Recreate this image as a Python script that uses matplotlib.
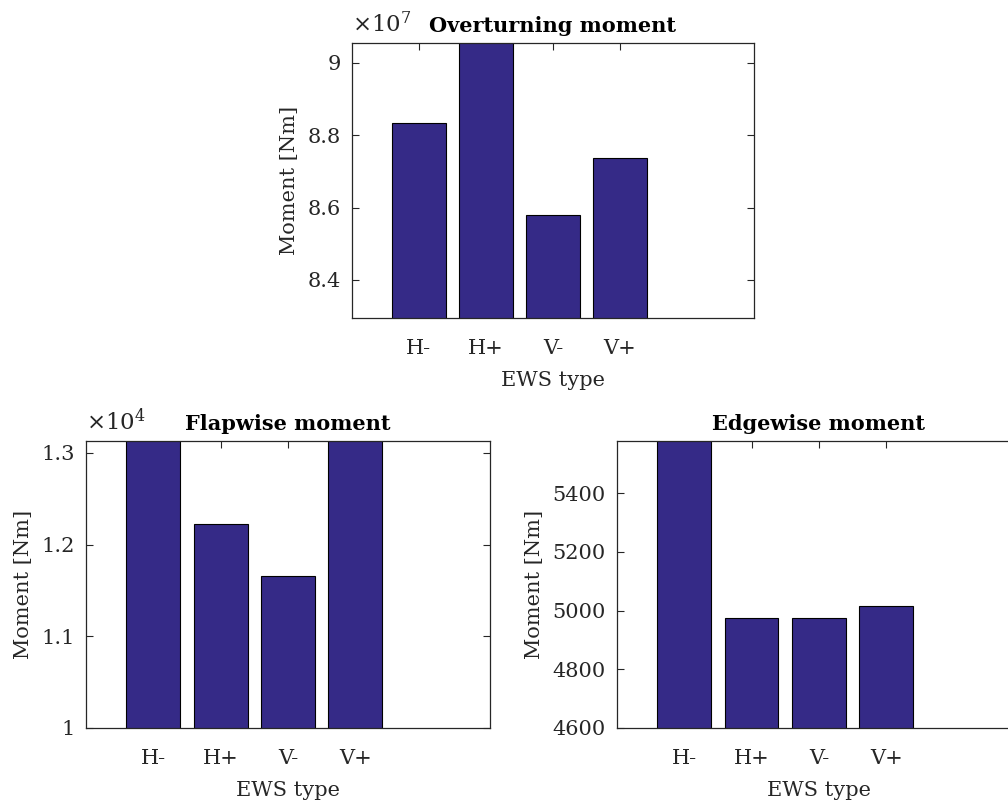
import matplotlib
matplotlib.use("Agg")
import matplotlib.pyplot as plt
from matplotlib.ticker import FuncFormatter

# EWS load case results
ews_types = ["H-", "H+", "V-", "V+"]
overturning = [8.833e7, 9.10e7, 8.580e7, 8.736e7]   # Nm
flapwise = [1.35e4, 1.223e4, 1.166e4, 1.32e4]        # Nm
edgewise = [5700, 4973, 4973, 5017]                  # Nm

overturning_ticks = [8.4, 8.6, 8.8, 9.0]
flapwise_ticks = [1.0, 1.1, 1.2, 1.3]
edgewise_ticks = [4600, 4800, 5000, 5200, 5400]

BAR = "#352a87"
INK = "#262626"
FS = 15

plt.rcParams["font.family"] = ["DejaVu Serif"]
plt.rcParams["mathtext.fontset"] = "dejavuserif"

fig = plt.figure(figsize=(10.08, 8.07), dpi=100)

def panel(rect, values, scale, ylim, yticks, title, exponent=None):
    ax = fig.add_axes(rect)
    x = list(range(1, len(values) + 1))
    ax.bar(x, [v / scale for v in values], width=0.8, color=BAR,
           edgecolor="black", linewidth=0.8, zorder=2)
    ax.set_xlim(0, 6)
    ax.set_ylim(*ylim)
    ax.set_xticks(x)
    ax.set_xticklabels(ews_types)
    ax.set_yticks(yticks)
    ax.yaxis.set_major_formatter(FuncFormatter(lambda v, p: "%g" % v))
    ax.tick_params(direction="in", length=5, width=0.8, colors=INK,
                   labelsize=FS, top=True, right=True)
    ax.tick_params(axis="x", pad=15)
    ax.tick_params(axis="y", pad=8)
    for s in ax.spines.values():
        s.set_color(INK)
        s.set_linewidth(0.9)
    ax.set_xlabel("EWS type", fontsize=FS, color=INK, labelpad=9.5)
    ax.set_ylabel("Moment [Nm]", fontsize=FS, color=INK, labelpad=6)
    ax.set_title(title, fontsize=FS, fontweight="bold", color="black", pad=8)
    if exponent is not None:
        ax.text(0.0, 1.02, r"$\times10^{%d}$" % exponent, transform=ax.transAxes,
                fontsize=16.5, color=INK, ha="left", va="bottom")
    return ax

panel([0.349, 0.606, 0.399, 0.3408], overturning, 1e7, (8.295, 9.055),
      overturning_ticks, "Overturning moment", exponent=7)
panel([0.0853, 0.0979, 0.4008, 0.3556], flapwise, 1e4, (1.0, 1.313),
      flapwise_ticks, "Flapwise moment", exponent=4)
panel([0.612, 0.0979, 0.4008, 0.3556], edgewise, 1, (4600, 5577),
      edgewise_ticks, "Edgewise moment")

fig.savefig("out.png", dpi=100)
